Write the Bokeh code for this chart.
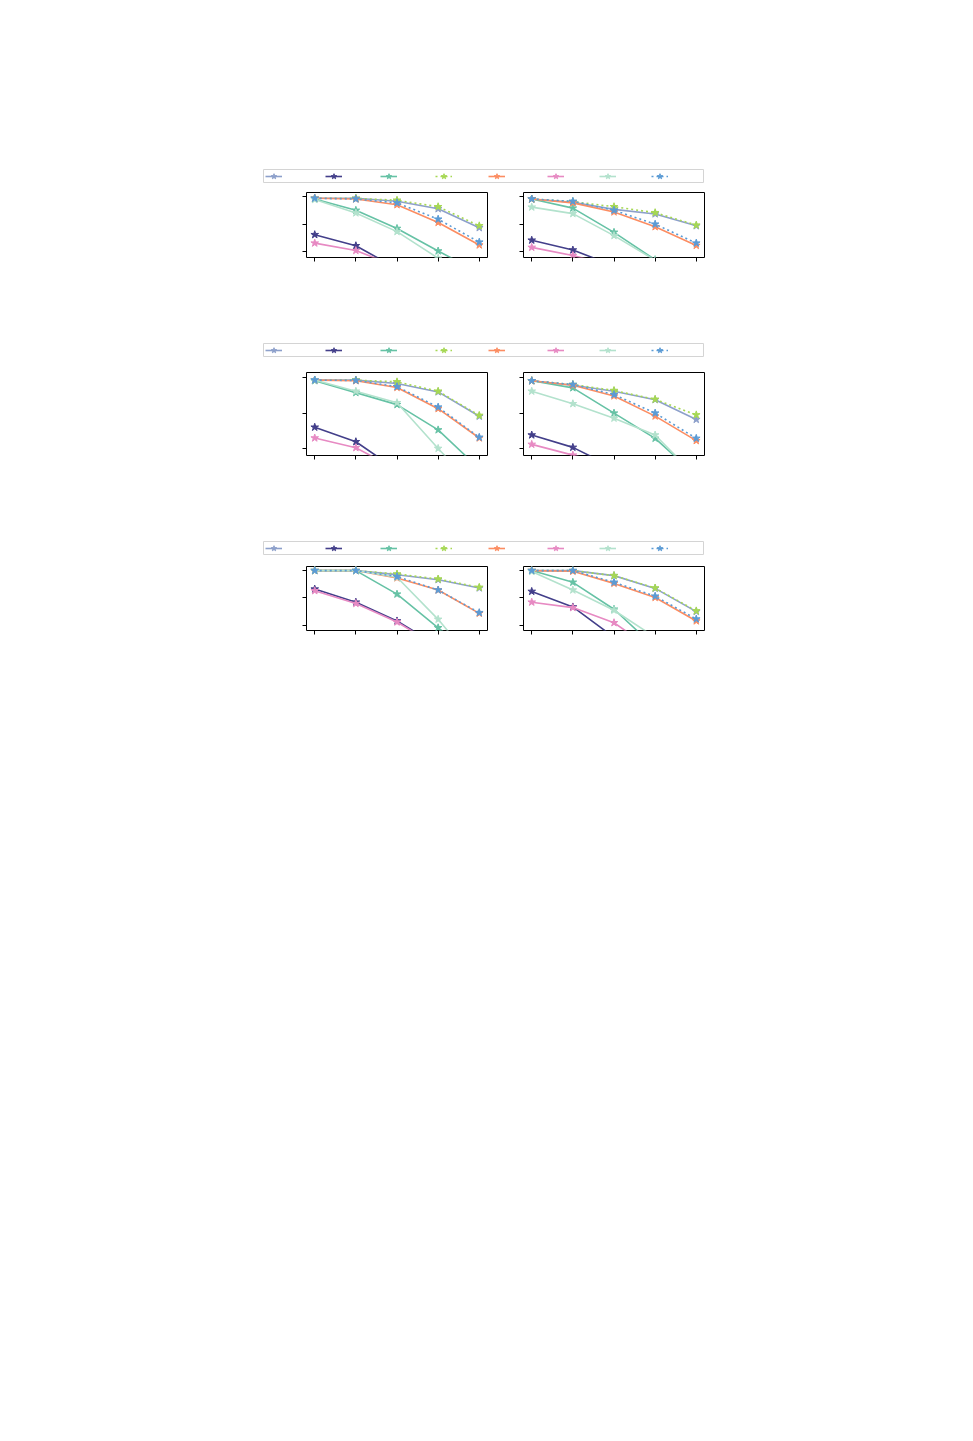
from bokeh.plotting import figure
from bokeh.models import ColumnDataSource, Range1d, Legend, LegendItem, Spacer, FixedTicker
from bokeh.layouts import column, row
from bokeh.core.properties import value
from bokeh.embed import file_html
from bokeh.resources import INLINE

# x steps shared by every panel, y ticks shared by every panel
x_steps = [0, 1, 2, 3, 4]
y_ticks = [60, 80, 100]

# series order = legend order
series_colors = ["#8da0cb", "#433f8a", "#66c2a5", "#a6d854",
                 "#fc8d62", "#e78ac3", "#b3e2cd", "#5b9bd5"]
series_dash = ["solid", "solid", "solid", "2 3",
               "solid", "solid", "solid", "2 3"]

# values, one list per series (points below the frame are clipped)
row1_left = [
    [98.8, 98.8, 96.7, 91.2, 77.5],
    [72.5, 64.5, 48.0, 35.0, 25.0],
    [98.3, 90.1, 77.0, 60.7, 45.0],
    [98.8, 98.8, 97.4, 92.7, 78.9],
    [98.8, 98.3, 94.1, 81.3, 65.0],
    [66.4, 61.0, 49.5, 40.0, 32.0],
    [97.9, 88.2, 74.7, 55.5, 40.0],
    [98.8, 98.3, 95.5, 83.7, 67.1],
]
row1_right = [
    [98.3, 96.0, 90.8, 87.5, 78.9],
    [68.5, 61.4, 50.0, 40.0, 30.0],
    [98.3, 91.7, 74.2, 54.4, 38.0],
    [98.3, 96.4, 92.7, 88.4, 79.4],
    [98.3, 95.5, 88.9, 78.2, 64.7],
    [63.3, 57.4, 50.0, 42.0, 35.0],
    [92.4, 87.7, 71.8, 54.0, 38.0],
    [98.3, 96.6, 90.1, 80.1, 66.4],
]
row2_left = [
    [98.7, 98.7, 96.8, 92.0, 78.2],
    [72.0, 63.8, 47.8, 38.0, 30.0],
    [98.3, 91.6, 84.8, 70.5, 48.5],
    [98.7, 98.7, 97.7, 92.4, 78.7],
    [98.7, 98.3, 94.5, 82.5, 65.9],
    [65.9, 60.4, 48.0, 40.0, 33.0],
    [98.7, 92.4, 85.9, 60.0, 35.0],
    [98.7, 98.5, 95.0, 83.4, 66.3],
]
row2_right = [
    [98.3, 95.8, 92.4, 87.6, 76.4],
    [67.6, 60.6, 49.0, 40.0, 32.0],
    [98.3, 94.3, 80.0, 65.7, 44.6],
    [98.3, 96.2, 92.8, 87.8, 79.0],
    [98.3, 95.8, 89.7, 78.3, 64.4],
    [62.3, 56.2, 50.0, 43.0, 36.0],
    [92.4, 85.3, 77.1, 67.6, 44.0],
    [98.3, 96.2, 90.5, 80.0, 65.7],
]
row3_left = [
    [100.0, 100.0, 97.0, 93.3, 87.2],
    [86.4, 76.8, 63.0, 44.6, 30.0],
    [100.0, 100.0, 82.7, 58.0, 35.0],
    [100.0, 100.0, 97.5, 93.8, 87.7],
    [100.0, 100.0, 94.6, 85.7, 68.6],
    [85.2, 75.8, 62.2, 44.0, 30.0],
    [100.0, 100.0, 95.1, 64.2, 28.0],
    [100.0, 100.0, 95.6, 85.7, 69.1],
]
row3_right = [
    [100.0, 100.0, 96.3, 86.9, 69.9],
    [84.7, 73.3, 51.0, 35.0, 20.0],
    [100.0, 91.4, 71.6, 43.6, 30.0],
    [100.0, 100.0, 96.3, 87.2, 70.4],
    [100.0, 99.5, 90.6, 80.2, 63.0],
    [76.8, 72.8, 61.7, 40.7, 30.0],
    [99.3, 85.7, 70.9, 51.0, 38.0],
    [100.0, 100.0, 91.4, 81.2, 64.4],
]

# left edge of each legend entry inside the legend bar (px)
legend_x = [2, 62, 117, 172, 225, 284, 336, 388]

LINE_W = 1.6
MARK_SIZE = 8


def make_panel(series, frame_h):
    p = figure(width=195, height=frame_h + 12,
               x_range=Range1d(-0.2, 4.2), y_range=Range1d(56, 103),
               min_border_left=12, min_border_right=2,
               min_border_top=2, min_border_bottom=10,
               output_backend="svg", toolbar_location=None)
    p.grid.visible = False
    p.outline_line_color = "black"
    p.outline_line_width = 1
    p.background_fill_color = "white"
    p.border_fill_color = "white"
    p.xaxis.ticker = FixedTicker(ticks=x_steps)
    p.yaxis.ticker = FixedTicker(ticks=y_ticks)
    p.xaxis.major_label_overrides = {t: "" for t in x_steps}
    p.yaxis.major_label_overrides = {t: "" for t in y_ticks}
    for ax in (p.xaxis, p.yaxis):
        ax.axis_line_color = None
        ax.major_tick_in = 0
        ax.major_tick_out = 4
        ax.major_tick_line_color = "black"
        ax.minor_tick_line_color = None
        ax.major_label_text_font_size = "0px"
        ax.major_label_standoff = 0
    for vals, color, dash in zip(series, series_colors, series_dash):
        src = ColumnDataSource(data=dict(x=x_steps, y=vals))
        p.line("x", "y", source=src, line_color=color, line_width=LINE_W, line_dash=dash)
        p.scatter("x", "y", source=src, marker="star", size=MARK_SIZE,
                  fill_color=color, line_color=color)
    return p


def make_legend_bar(series):
    # the series are drawn here too, but fall outside the bar's range: only the legend shows
    lf = figure(width=441, height=14, min_border=0,
                x_range=Range1d(0, 1), y_range=Range1d(0, 1),
                x_axis_location=None, y_axis_location=None,
                output_backend="svg", toolbar_location=None)
    lf.grid.visible = False
    lf.outline_line_color = "#d4d4d4"
    lf.outline_line_width = 1
    for i, (vals, color, dash) in enumerate(zip(series, series_colors, series_dash)):
        src = ColumnDataSource(data=dict(x=x_steps, y=vals))
        ln = lf.line("x", "y", source=src, line_color=color, line_width=LINE_W, line_dash=dash)
        sc = lf.scatter("x", "y", source=src, marker="star", size=MARK_SIZE,
                        fill_color=color, line_color=color)
        leg = Legend(items=[LegendItem(label=value(" "), renderers=[ln, sc])],
                     location=(legend_x[i], 0), orientation="horizontal",
                     padding=0, margin=0, spacing=0,
                     glyph_width=17, glyph_height=14,
                     label_width=0, label_height=14, label_standoff=0,
                     border_line_color=None, background_fill_alpha=0)
        lf.add_layout(leg)
    return lf


def panel_row(left, right, frame_h):
    return row(Spacer(width=294), make_panel(left, frame_h),
               Spacer(width=22), make_panel(right, frame_h))


layout = column(
    Spacer(height=169),
    row(Spacer(width=263), make_legend_bar(row1_left)),
    Spacer(height=7),
    panel_row(row1_left, row1_right, 65),
    Spacer(height=76),
    row(Spacer(width=263), make_legend_bar(row2_left)),
    Spacer(height=13),
    panel_row(row2_left, row2_right, 83),
    Spacer(height=76),
    row(Spacer(width=263), make_legend_bar(row3_left)),
    Spacer(height=9),
    panel_row(row3_left, row3_right, 64),
)

open("out.html", "w").write(file_html(layout, INLINE))
